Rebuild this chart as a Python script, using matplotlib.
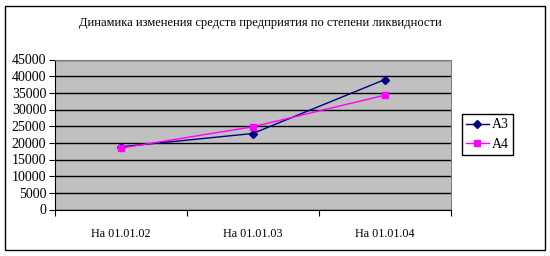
import matplotlib.pyplot as plt
from matplotlib.patches import Rectangle

categories = ['На 01.01.02', 'На 01.01.03', 'На 01.01.04']
a3_values = [18800, 22800, 39000]
a4_values = [18400, 24800, 34300]
y_ticks = list(range(0, 45001, 5000))

plt.rcParams['font.family'] = ['Liberation Serif', 'DejaVu Serif']

fig = plt.figure(figsize=(5.5, 2.56), dpi=100)
fig.patches.append(Rectangle((5 / 550, 6 / 256), 540 / 550, 244 / 256, transform=fig.transFigure,
                             fill=False, edgecolor='black', linewidth=1))
ax = fig.add_axes([54.5 / 550, 1 - 209.5 / 256, 396.5 / 550, 150 / 256])
ax.set_facecolor('#C0C0C0')

x = list(range(len(categories)))
ax.plot(x, a3_values, color='#000080', marker='D', markersize=4, linewidth=1, label='A3')
ax.plot(x, a4_values, color='#FF00FF', marker='s', markersize=5, linewidth=1, label='A4')

ax.set_xlim(-0.5, len(categories) - 0.5)
ax.set_ylim(0, 45000)
ax.set_yticks(y_ticks)
ax.set_yticklabels([str(v) for v in y_ticks], fontsize=10)
ax.yaxis.grid(True, color='black', linewidth=1)
ax.set_axisbelow(True)

# category labels sit between the boundary ticks
ax.set_xticks([i - 0.5 for i in range(len(categories) + 1)])
ax.set_xticklabels([])
ax.set_xticks(x, minor=True)
ax.set_xticklabels(categories, minor=True, fontsize=8.7)
ax.tick_params(axis='x', which='minor', length=0, pad=13)
ax.tick_params(axis='x', which='major', length=4, direction='out', color='black')
ax.tick_params(axis='y', length=4, direction='out', pad=2)

for side in ['top', 'right']:
    ax.spines[side].set_color('#808080')
for side in ['left', 'bottom']:
    ax.spines[side].set_color('black')

fig.text(260 / 550, 1 - 23 / 256, 'Динамика изменения средств предприятия по степени ликвидности',
         fontsize=9, ha='center', va='center')

leg = ax.legend(loc='center left', bbox_to_anchor=((461.5 - 54.5) / 396.5, 0.5),
                fontsize=10, frameon=True, fancybox=False, edgecolor='black', framealpha=1,
                handlelength=1.6, borderpad=0.35, labelspacing=0.45, handletextpad=0.2,
                borderaxespad=0)
leg.get_frame().set_linewidth(1)

fig.savefig('out.png')
